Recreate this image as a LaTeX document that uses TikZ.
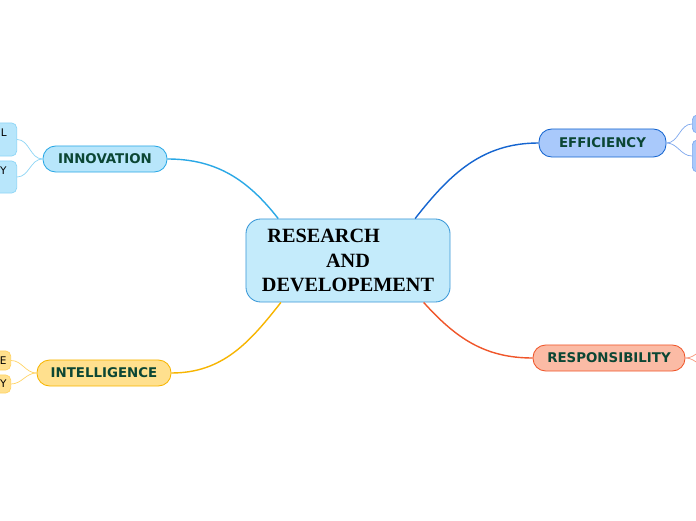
\documentclass[tikz,border=0pt]{standalone}
\usepackage{fontspec}
\newfontfamily\titlefont{Liberation Serif}
\newfontfamily\branchfont{DejaVu Sans}
\usetikzlibrary{positioning}

\definecolor{rootfill}{HTML}{C4EBFB}
\definecolor{rootline}{HTML}{3A98D8}
\definecolor{labeltext}{HTML}{0B4634}
\definecolor{innofill}{HTML}{B8E6FB}
\definecolor{innoline}{HTML}{2AA8E6}
\definecolor{innosub}{HTML}{8ED6F6}
\definecolor{intefill}{HTML}{FFE08E}
\definecolor{inteline}{HTML}{F7B500}
\definecolor{intesub}{HTML}{FFD466}
\definecolor{efffill}{HTML}{A9C9FB}
\definecolor{effline}{HTML}{1565D0}
\definecolor{effsub}{HTML}{7EA8EE}
\definecolor{respfill}{HTML}{FBBBA5}
\definecolor{respline}{HTML}{F0562A}
\definecolor{respsub}{HTML}{F8957A}

\begin{document}
\begin{tikzpicture}[
    x=0.025cm, y=0.025cm,
    root/.style   = {draw=rootline, fill=rootfill, rounded corners=10.5pt, line width=0.6pt,
                     minimum width=5.1cm, minimum height=2.075cm, inner sep=0pt,
                     align=center, font=\titlefont\bfseries\fontsize{14.4}{17.4}\selectfont},
    branch/.style = {rounded corners=9pt, line width=0.6pt, minimum height=0.65cm, inner sep=0pt,
                     text=labeltext, font=\branchfont\bfseries\fontsize{9.5}{11}\selectfont},
    sub/.style    = {rounded corners=3.5pt, line width=0.5pt, inner ysep=0pt,
                     font=\branchfont\fontsize{7.5}{9.5}\selectfont, text=black},
    link/.style   = {line width=1pt},
    sublink/.style= {line width=0.5pt},
]

\useasboundingbox[fill=white] (0,0) rectangle (696,520);

%% ---- Central topic ----

\node[root] (rd) at (348,259.5) {RESEARCH\hspace*{2.4em}\\AND\\DEVELOPEMENT};

%% ---- Main branches ----

\node[branch, draw=innoline, fill=innofill, minimum width=3.1cm]  (inno) at (105,361)   {INNOVATION};
\node[branch, draw=inteline, fill=intefill, minimum width=3.35cm] (inte) at (104,147)   {INTELLIGENCE};
\node[branch, draw=effline,  fill=efffill,  minimum width=3.175cm, minimum height=0.7cm] (eff) at (602.5,377) {EFFICIENCY};
\node[branch, draw=respline, fill=respfill, minimum width=3.8cm]  (resp) at (609,162)   {RESPONSIBILITY};

\draw[link, innoline] (rd.149) to[out=128, in=0] (inno.east);
\draw[link, effline]  (rd.32)  to[out=52,  in=180] (eff.west);
\draw[link, inteline] (rd.212) to[out=232, in=0] (inte.east);
\draw[link, respline] (rd.331) to[out=-48, in=180] (resp.west);

%% ---- Sub topics (cut off by the page edge) ----

% innovation
\node[sub, draw=innosub, fill=innofill, anchor=east, text width=1.2cm, align=right,
      inner xsep=0.25cm, minimum height=0.825cm] (inno1) at (17,380.5) {L\\\mbox{}};
\node[sub, draw=innosub, fill=innofill, anchor=east, text width=1.2cm, align=right,
      inner xsep=0.25cm, minimum height=0.8cm]   (inno2) at (17,343)   {Y\\\mbox{}};
\draw[sublink, innosub] (inno.west) to[out=180, in=0] (inno1.east);
\draw[sublink, innosub] (inno.west) to[out=180, in=0] (inno2.east);

% intelligence
\node[sub, draw=intesub, fill=intefill, anchor=east, text width=1.2cm, align=right,
      inner xsep=0.1cm, minimum height=0.475cm] (inte1) at (11,159.5) {E};
\node[sub, draw=intesub, fill=intefill, anchor=east, text width=1.2cm, align=right,
      inner xsep=0.1cm, minimum height=0.45cm]  (inte2) at (11,136)   {Y};
\draw[sublink, intesub] (inte.west) to[out=180, in=0] (inte1.east);
\draw[sublink, intesub] (inte.west) to[out=180, in=0] (inte2.east);

% efficiency
\node[sub, draw=effsub, fill=efffill, anchor=west, minimum width=1.5cm, minimum height=0.45cm] (eff1) at (692,396) {};
\node[sub, draw=effsub, fill=efffill, anchor=west, minimum width=1.5cm, minimum height=0.8cm]  (eff2) at (692,364) {};
\draw[sublink, effsub] (eff.east) to[out=0, in=180] (eff1.west);
\draw[sublink, effsub] (eff.east) to[out=0, in=180] (eff2.west);

% responsibility
\coordinate (resp1) at (712,150);
\coordinate (resp2) at (712,174);
\draw[sublink, respsub] (resp.east) to[out=0, in=180] (resp1);
\draw[sublink, respsub] (resp.east) to[out=0, in=180] (resp2);

\end{tikzpicture}
\end{document}
